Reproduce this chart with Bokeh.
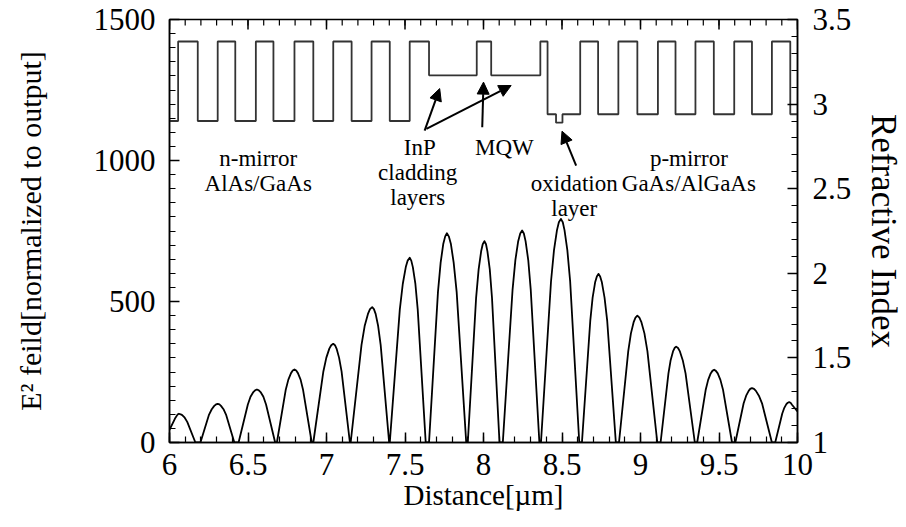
import numpy as np
from bokeh.plotting import figure
from bokeh.models import Range1d, LinearAxis, FixedTicker, Label, Arrow, NormalHead
from bokeh.embed import file_html
from bokeh.resources import INLINE

FONT = "Liberation Serif"

# Layer boundaries along the structure (um) and the refractive index of each layer
layer_edges = [6.000, 6.055, 6.180, 6.307, 6.419, 6.550, 6.662, 6.796, 6.916, 7.043,
               7.160, 7.287, 7.403, 7.530, 7.653, 7.957, 8.049, 8.362, 8.408, 8.462,
               8.503, 8.616, 8.730, 8.859, 8.980, 9.111, 9.223, 9.350, 9.467, 9.597,
               9.710, 9.837, 9.954, 10.000]
layer_index = [2.90, 3.37, 2.90, 3.37, 2.90, 3.37, 2.90, 3.37, 2.90, 3.37,
               2.90, 3.37, 2.90, 3.37, 3.17, 3.37, 3.17, 3.37, 2.94, 2.89,
               2.94, 3.37, 2.94, 3.37, 2.94, 3.37, 2.94, 3.37, 2.94, 3.37,
               2.94, 3.37, 2.94]

# Standing-wave intensity |E|^2 along the structure, one row per lobe
field_x = [6.000, 6.035, 6.050, 6.055, 6.060, 6.071, 6.081, 6.097, 6.113, 6.165,
           6.197, 6.252, 6.269, 6.285, 6.296, 6.307, 6.318, 6.328, 6.344, 6.360, 6.413,
           6.440, 6.499, 6.516, 6.534, 6.545, 6.557, 6.569, 6.580, 6.598, 6.615, 6.673,
           6.684, 6.740, 6.757, 6.774, 6.785, 6.796, 6.807, 6.818, 6.835, 6.851, 6.906,
           6.916, 6.980, 6.999, 7.018, 7.030, 7.043, 7.054, 7.064, 7.080, 7.096, 7.149,
           7.154, 7.223, 7.243, 7.264, 7.277, 7.291, 7.302, 7.313, 7.329, 7.345, 7.399,
           7.403, 7.467, 7.486, 7.505, 7.517, 7.530, 7.540, 7.550, 7.566, 7.581, 7.632,
           7.653, 7.710, 7.727, 7.744, 7.756, 7.767, 7.779, 7.792, 7.810, 7.829, 7.890,
           7.900, 7.953, 7.969, 7.985, 7.995, 8.006, 8.016, 8.025, 8.040, 8.054, 8.102,
           8.123, 8.185, 8.203, 8.221, 8.234, 8.246, 8.257, 8.268, 8.285, 8.301, 8.356,
           8.366, 8.430, 8.449, 8.468, 8.480, 8.493, 8.505, 8.516, 8.534, 8.552, 8.610,
           8.627, 8.680, 8.695, 8.711, 8.722, 8.732, 8.743, 8.754, 8.771, 8.788, 8.843,
           8.863, 8.922, 8.939, 8.957, 8.968, 8.980, 8.993, 9.005, 9.025, 9.044, 9.107,
           9.128, 9.178, 9.192, 9.207, 9.217, 9.227, 9.239, 9.251, 9.269, 9.287, 9.346,
           9.361, 9.415, 9.431, 9.447, 9.458, 9.469, 9.480, 9.492, 9.509, 9.526, 9.583,
           9.604, 9.657, 9.673, 9.689, 9.699, 9.710, 9.723, 9.735, 9.754, 9.774, 9.837,
           9.858, 9.903, 9.916, 9.929, 9.938, 9.947, 9.956, 9.965, 10.000]
field_y = [45, 85, 98, 101, 102, 100, 97, 88, 73, 0,
           0, 99, 118, 130, 135, 137, 135, 130, 118, 99, 0,
           0, 135, 162, 179, 185, 188, 185, 179, 162, 135, 0,
           0, 186, 223, 246, 255, 259, 255, 246, 223, 186, 0,
           0, 252, 301, 333, 345, 350, 345, 333, 301, 252, 0,
           0, 346, 413, 456, 473, 480, 473, 456, 413, 346, 0,
           0, 472, 563, 622, 645, 655, 645, 622, 563, 472, 0,
           0, 534, 638, 705, 731, 742, 731, 705, 638, 534, 0,
           0, 514, 614, 678, 703, 714, 703, 678, 614, 514, 0,
           0, 541, 647, 714, 741, 752, 741, 714, 647, 541, 0,
           0, 571, 682, 753, 781, 793, 781, 753, 682, 571, 0,
           0, 431, 514, 568, 589, 598, 589, 568, 514, 431, 0,
           0, 324, 387, 428, 443, 450, 443, 428, 387, 324, 0,
           0, 245, 292, 323, 335, 340, 335, 323, 292, 245, 0,
           0, 186, 222, 245, 254, 258, 254, 245, 222, 186, 0,
           0, 139, 166, 183, 190, 193, 190, 183, 166, 139, 0,
           0, 103, 123, 136, 141, 143, 141, 134, 110]

# Axis ticks
x_ticks = [6, 6.5, 7, 7.5, 8, 8.5, 9, 9.5, 10]
x_tick_labels = ["6", "6.5", "7", "7.5", "8", "8.5", "9", "9.5", "10"]
e_ticks = [0, 500, 1000, 1500]
e_tick_labels = ["0", "500", "1000", "1500"]
n_ticks = [1, 1.5, 2, 2.5, 3, 3.5]
n_tick_labels = ["1", "1.5", "2", "2.5", "3", "3.5"]

# Annotation texts: (text, x, y on the field axis)
notes = [("n-mirror", 6.565, 1007), ("AlAs/GaAs", 6.565, 918),
         ("InP", 7.594, 1046), ("cladding", 7.581, 957), ("layers", 7.581, 869),
         ("MQW", 8.133, 1046),
         ("oxidation", 8.578, 918), ("layer", 8.578, 830),
         ("p-mirror", 9.308, 1007), ("GaAs/AlGaAs", 9.308, 918)]
# Arrows: (x_start, y_start, x_end, y_end)
pointers = [(7.625, 1106, 7.721, 1255),
            (7.636, 1112, 8.176, 1266),
            (7.992, 1118, 8.000, 1278),
            (8.590, 982, 8.500, 1104)]

p = figure(width=906, height=527, output_backend="svg", toolbar_location=None,
           x_range=Range1d(6, 10), y_range=Range1d(0, 1500),
           min_border_left=169, min_border_right=107, min_border_top=19,
           min_border_bottom=85, background_fill_color="white",
           border_fill_color="white")
p.extra_y_ranges = {"n": Range1d(1, 3.5)}
p.xgrid.visible = False
p.ygrid.visible = False
p.outline_line_color = "black"
p.outline_line_width = 1.5


def style_axis(ax, ticks, minor, labels, label_size):
    ax.ticker = FixedTicker(ticks=ticks, minor_ticks=list(minor))
    ax.major_label_overrides = {t: l for t, l in zip(ticks, labels)}
    ax.major_tick_in = 10
    ax.major_tick_out = 0
    ax.minor_tick_in = 6
    ax.minor_tick_out = 0
    ax.axis_line_color = "black"
    ax.axis_line_width = 1.5
    ax.major_tick_line_width = 1.5
    ax.minor_tick_line_width = 1.2
    ax.major_label_text_font = FONT
    ax.major_label_text_font_size = "31px"
    ax.major_label_text_color = "black"
    ax.axis_label_text_font = FONT
    ax.axis_label_text_font_style = "normal"
    ax.axis_label_text_font_size = label_size
    ax.axis_label_text_color = "black"


x_minor = np.round(np.arange(6, 10.001, 0.1), 3)
e_minor = np.arange(0, 1501, 50)
n_minor = np.round(np.arange(1, 3.501, 0.1), 3)

xa = p.xaxis[0]
style_axis(xa, x_ticks, x_minor, x_tick_labels, "29px")
xa.axis_label = "Distance[µm]"
xa.major_label_standoff = 11
xa.axis_label_standoff = 1

ya = p.yaxis[0]
style_axis(ya, e_ticks, e_minor, e_tick_labels, "30px")
ya.axis_label = "E² feild[normalized to output]"
ya.major_label_standoff = 14
ya.axis_label_standoff = 44

ra = LinearAxis(y_range_name="n")
style_axis(ra, n_ticks, n_minor, n_tick_labels, "35px")
ra.axis_label = "Refractive Index"
ra.major_label_standoff = 15
ra.axis_label_standoff = 10
p.add_layout(ra, "right")

# Inward ticks along the top edge of the frame
p.ray(x=x_ticks, y=1500, length=10, length_units="screen", angle=-np.pi / 2,
      line_color="black", line_width=1.5)
p.ray(x=list(x_minor), y=1500, length=6, length_units="screen", angle=-np.pi / 2,
      line_color="black", line_width=1.2)

# Refractive index profile
levels = layer_index + [layer_index[-1]]
p.step(layer_edges, levels, mode="after", y_range_name="n", line_color="#333333",
       line_width=1.8)

# Field intensity
p.line(field_x, field_y, line_color="black", line_width=1.8, line_join="round")

for txt, x, y in notes:
    p.add_layout(Label(x=x, y=y, text=txt, text_font=FONT, text_font_size="23px",
                       text_align="center", text_baseline="middle",
                       text_color="black"))

for x0, y0, x1, y1 in pointers:
    p.add_layout(Arrow(x_start=x0, y_start=y0, x_end=x1, y_end=y1,
                       line_color="black", line_width=2,
                       end=NormalHead(size=12, fill_color="black",
                                      line_color="black", line_width=1)))

open("out.html", "w").write(file_html(p, INLINE))
